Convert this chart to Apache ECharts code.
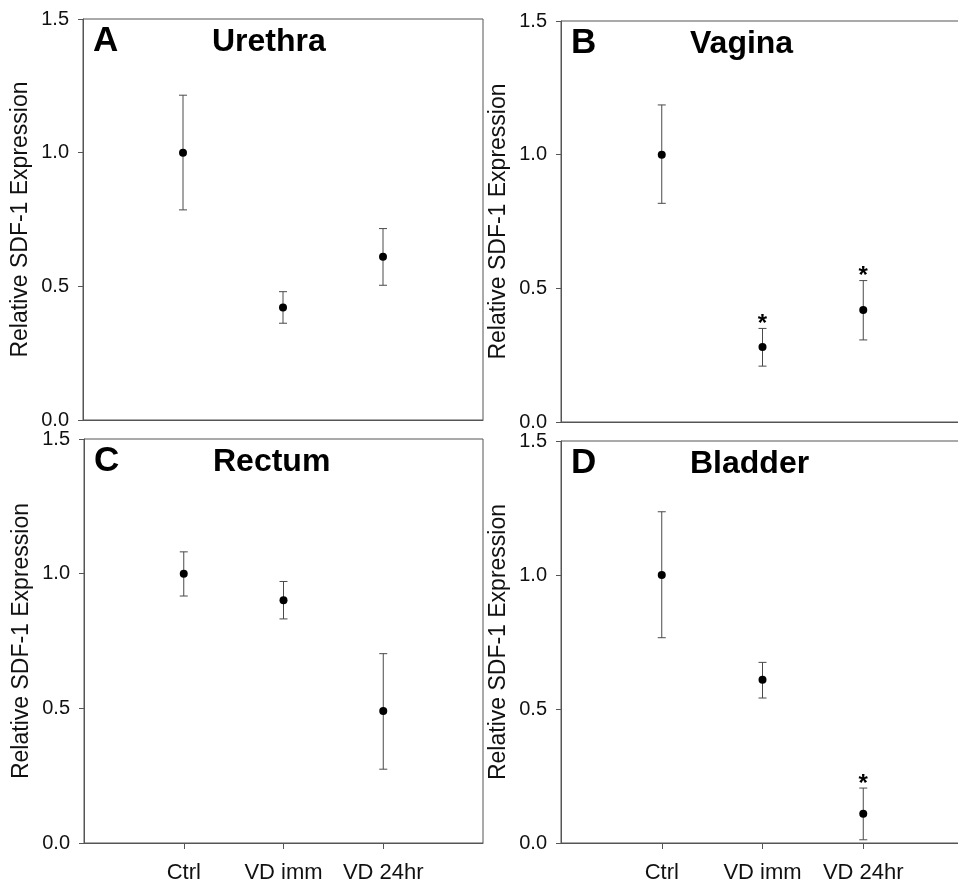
<!DOCTYPE html>
<html>
<head>
<meta charset="utf-8">
<script src="https://cdn.jsdelivr.net/npm/echarts@6/dist/echarts.min.js"></script>
<style>
  html, body { margin: 0; padding: 0; background: #fff; }
  #chart { width: 958px; height: 886px; }
</style>
</head>
<body>
<div id="chart"></div>
<script>
// ---- Data ----
const categories = ['Ctrl', 'VD imm', 'VD 24hr'];
const yTickValues = [0.0, 0.5, 1.0, 1.5];

const urethraMean  = [1.000, 0.421, 0.611];
const urethraUpper = [1.215, 0.480, 0.716];
const urethraLower = [0.786, 0.362, 0.504];
const urethraStar  = [false, false, false];

const vaginaMean   = [1.000, 0.281, 0.419];
const vaginaUpper  = [1.186, 0.350, 0.529];
const vaginaLower  = [0.818, 0.209, 0.307];
const vaginaStar   = [false, true, true];

const rectumMean   = [1.000, 0.901, 0.490];
const rectumUpper  = [1.081, 0.971, 0.703];
const rectumLower  = [0.917, 0.832, 0.274];
const rectumStar   = [false, false, false];

const bladderMean  = [1.000, 0.609, 0.109];
const bladderUpper = [1.236, 0.674, 0.205];
const bladderLower = [0.766, 0.541, 0.012];
const bladderStar  = [false, false, true];

const panelLetters = ['A', 'B', 'C', 'D'];
const panelTitles  = ['Urethra', 'Vagina', 'Rectum', 'Bladder'];
const yAxisName = 'Relative SDF-1 Expression';

// ---- Layout ----
const FONT = '"Liberation Sans", Arial, Helvetica, sans-serif';
const AXIS_COLOR = '#555';
const panels = [
  { grid: { left: 83,  top: 19,  width: 400, height: 401 }, mean: urethraMean, upper: urethraUpper, lower: urethraLower, star: urethraStar, showX: false },
  { grid: { left: 561, top: 21,  width: 403, height: 401 }, mean: vaginaMean,  upper: vaginaUpper,  lower: vaginaLower,  star: vaginaStar,  showX: false },
  { grid: { left: 84,  top: 439, width: 399, height: 404 }, mean: rectumMean,  upper: rectumUpper,  lower: rectumLower,  star: rectumStar,  showX: true },
  { grid: { left: 561, top: 441, width: 403, height: 402 }, mean: bladderMean, upper: bladderUpper, lower: bladderLower, star: bladderStar, showX: true }
];

const xData = [''].concat(categories).concat(['']);

const option = {
  animation: false,
  backgroundColor: '#fff',
  grid: [], xAxis: [], yAxis: [], series: [], graphic: []
};

panels.forEach((p, k) => {
  option.grid.push(Object.assign({ show: true, borderColor: AXIS_COLOR, borderWidth: 1,
    containLabel: false, outerBoundsMode: 'none' }, p.grid));
  option.xAxis.push({
    type: 'category', gridIndex: k, data: xData, boundaryGap: false,
    axisLine: { show: true, lineStyle: { color: AXIS_COLOR, width: 1 } },
    axisTick: { show: p.showX, length: 6, lineStyle: { color: AXIS_COLOR }, interval: (i, v) => v !== '' },
    axisLabel: { show: p.showX, interval: 0, margin: 19, color: '#111', fontSize: 22, fontFamily: FONT },
    splitLine: { show: false }
  });
  option.yAxis.push({
    type: 'value', gridIndex: k, min: 0, max: 1.5, interval: 0.5,
    name: yAxisName, nameLocation: 'middle', nameGap: 51,
    nameTextStyle: { color: '#111', fontSize: 23, fontFamily: FONT },
    axisLine: { show: true, lineStyle: { color: AXIS_COLOR, width: 1 } },
    axisTick: { show: true, length: 5, inside: false, lineStyle: { color: AXIS_COLOR } },
    axisLabel: { color: '#111', fontSize: 20, fontFamily: FONT, margin: 14,
      formatter: v => yTickValues.find(t => Math.abs(t - v) < 1e-9).toFixed(1) },
    splitLine: { show: false }
  });
  // error bars
  option.series.push({
    type: 'custom', xAxisIndex: k, yAxisIndex: k, silent: true,
    data: categories.map((c, i) => [i + 1, p.lower[i], p.upper[i]]),
    renderItem: function (params, api) {
      const x = api.value(0);
      const lo = api.coord([x, api.value(1)]);
      const hi = api.coord([x, api.value(2)]);
      const cap = 4;
      const st = { stroke: '#4a4a4a', lineWidth: 1 };
      return { type: 'group', children: [
        { type: 'line', shape: { x1: lo[0], y1: lo[1], x2: hi[0], y2: hi[1] }, style: st },
        { type: 'line', shape: { x1: hi[0] - cap, y1: hi[1], x2: hi[0] + cap, y2: hi[1] }, style: st },
        { type: 'line', shape: { x1: lo[0] - cap, y1: lo[1], x2: lo[0] + cap, y2: lo[1] }, style: st }
      ]};
    },
    z: 2
  });
  // means
  option.series.push({
    type: 'scatter', xAxisIndex: k, yAxisIndex: k, silent: true,
    symbol: 'circle', symbolSize: 8, itemStyle: { color: '#000', opacity: 1 },
    data: categories.map((c, i) => [i + 1, p.mean[i]]),
    z: 3
  });
  // significance stars
  option.series.push({
    type: 'custom', xAxisIndex: k, yAxisIndex: k, silent: true,
    data: categories.map((c, i) => [i + 1, p.upper[i], p.star[i] ? 1 : 0]),
    renderItem: function (params, api) {
      if (!api.value(2)) return null;
      const pt = api.coord([api.value(0), api.value(1)]);
      return { type: 'text', style: { text: '*', x: pt[0], y: pt[1] - 4,
        textAlign: 'center', textVerticalAlign: 'middle', verticalAlign: 'middle',
        fill: '#000', font: 'bold 24px ' + FONT } };
    },
    z: 4
  });
  // panel letter + title (baseline ~34px under the frame top)
  const base = p.grid.top + 34;
  option.graphic.push({
    type: 'text', silent: true,
    style: { text: panelLetters[k], x: p.grid.left + 10, y: base - 0.3465 * 35,
      textAlign: 'left', textVerticalAlign: 'middle', verticalAlign: 'middle',
      fill: '#000', font: 'bold 35px ' + FONT }
  });
  option.graphic.push({
    type: 'text', silent: true,
    style: { text: panelTitles[k], x: p.grid.left + 129, y: base - 0.3465 * 32,
      textAlign: 'left', textVerticalAlign: 'middle', verticalAlign: 'middle',
      fill: '#000', font: 'bold 32px ' + FONT }
  });
});

const chart = echarts.init(document.getElementById('chart'), null, { renderer: 'canvas', width: 958, height: 886 });
chart.setOption(option);
</script>
</body>
</html>
